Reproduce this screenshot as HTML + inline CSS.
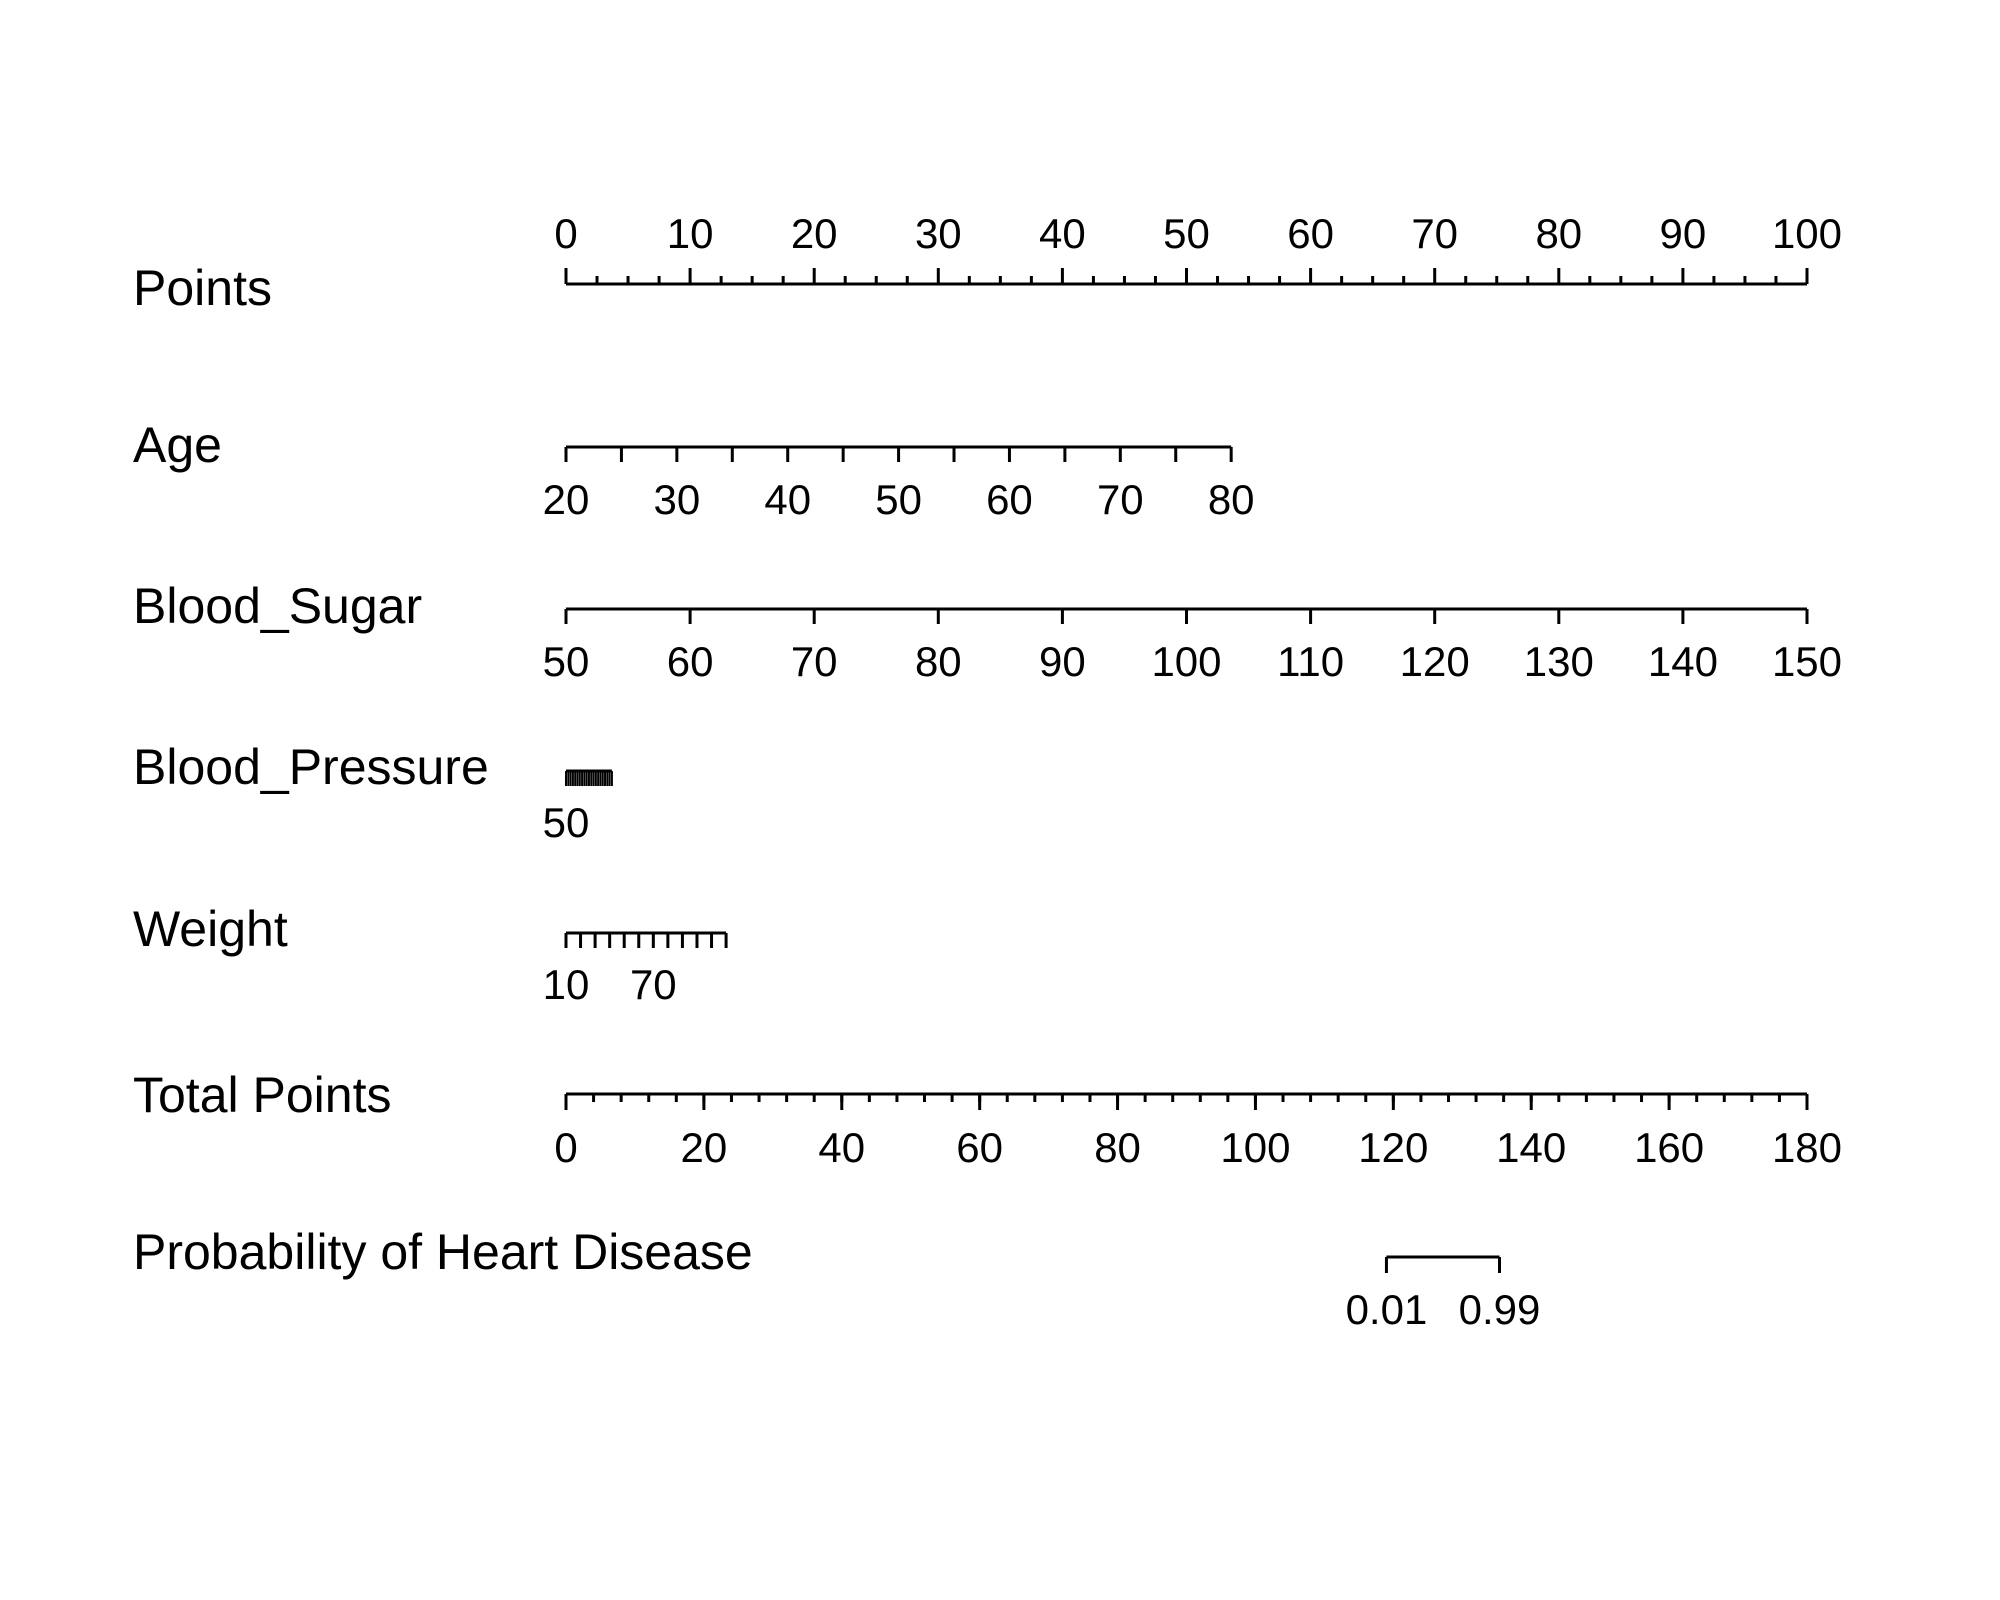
<!DOCTYPE html>
<html><head><meta charset="utf-8"><style>
html,body{margin:0;padding:0;background:#fff;}
svg{display:block;}
text{font-family:"Liberation Sans",Arial,sans-serif;fill:#000;}
</style></head><body>
<svg id="chart" width="2000" height="1600" viewBox="0 0 2000 1600">
<g id="g"></g>
</svg>
<script>
const pointsTicks=[0,10,20,30,40,50,60,70,80,90,100];
const ageValues=[20,25,30,35,40,45,50,55,60,65,70,75,80];
const ageLabels=[20,30,40,50,60,70,80];
const agePointsMax=53.6;
const sugarValues=[50,60,70,80,90,100,110,120,130,140,150];
const sugarPointsMax=100;
const bpValues=[50,55,60,65,70,75,80,85,90,95,100,105,110,115,120,125,130,135,140,145,150];
const bpLabels=[50];
const bpPointsMax=3.7;
const weightValues=[10,20,30,40,50,60,70,80,90,100,110,120];
const weightLabels=[10,70];
const weightPointsMax=12.9;
const totalTicks=[0,20,40,60,80,100,120,140,160,180];
const probLabels=["0.01","0.99"];
const probTotals=[119,135.4];
const rowNames=["Points","Age","Blood_Sugar","Blood_Pressure","Weight","Total Points","Probability of Heart Disease"];

const X0=566,X1=1807;
const px=p=>X0+(X1-X0)*p/100;
const tx=t=>X0+(X1-X0)*t/180;
const NS="http://www.w3.org/2000/svg";
const g=document.getElementById('g');
function mk(tag,attrs,name){const e=document.createElementNS(NS,tag);for(const k in attrs)e.setAttribute(k,attrs[k]);


g.appendChild(e);return e;}
function line(x1,y1,x2,y2,name,w){return mk('line',{x1:x1,y1:y1,x2:x2,y2:y2,stroke:'#000','stroke-width':w||3},name);}
function label(x,y,s,name,size,anchor){const t=mk('text',{x:x,y:y,'font-size':size||42,'text-anchor':anchor||'middle'},name);t.textContent=s;return t;}

const rowY=[305,462,623,784,946,1112,1269];
rowNames.forEach((n,i)=>label(133,rowY[i],n,'row-label-'+n.toLowerCase().replace(/[^a-z]+/g,'-'),50,'start'));

line(px(0),284,px(100),284,'points-axis-line');
for(let v=0;v<=100;v+=2.5){const major=v%10===0;line(px(v),284,px(v),major?268:276,'points-tick');}
pointsTicks.forEach(v=>label(px(v),248,String(v),'points-tick-label'));

function varAxis(vals,labs,pmax,y,lblY,name,w){
  const vmin=vals[0],vmax=vals[vals.length-1];
  const f=v=>px(pmax*(v-vmin)/(vmax-vmin));
  line(f(vmin),y,f(vmax),y,name+'-axis-line');
  vals.forEach(v=>line(f(v),y,f(v),y+15,name+'-tick',w));
  labs.forEach(v=>label(f(v),lblY,String(v),name+'-tick-label'));
}
varAxis(ageValues,ageLabels,agePointsMax,447,514,'age');
varAxis(sugarValues,sugarValues,sugarPointsMax,609,676,'blood-sugar');
varAxis(bpValues,bpLabels,bpPointsMax,771,837,'blood-pressure',2);
varAxis(weightValues,weightLabels,weightPointsMax,933,999,'weight');

line(tx(0),1094,tx(180),1094,'total-points-axis-line');
for(let v=0;v<=180;v+=4){line(tx(v),1094,tx(v),1102,'total-points-minor-tick');}
totalTicks.forEach(v=>{line(tx(v),1094,tx(v),1110,'total-points-major-tick');label(tx(v),1162,String(v),'total-points-tick-label');});

line(tx(probTotals[0]),1257,tx(probTotals[1]),1257,'probability-axis-line');
probTotals.forEach((t,i)=>{line(tx(t),1257,tx(t),1273,'probability-tick');label(tx(t),1324,probLabels[i],'probability-tick-label');});
</script>
</body></html>
